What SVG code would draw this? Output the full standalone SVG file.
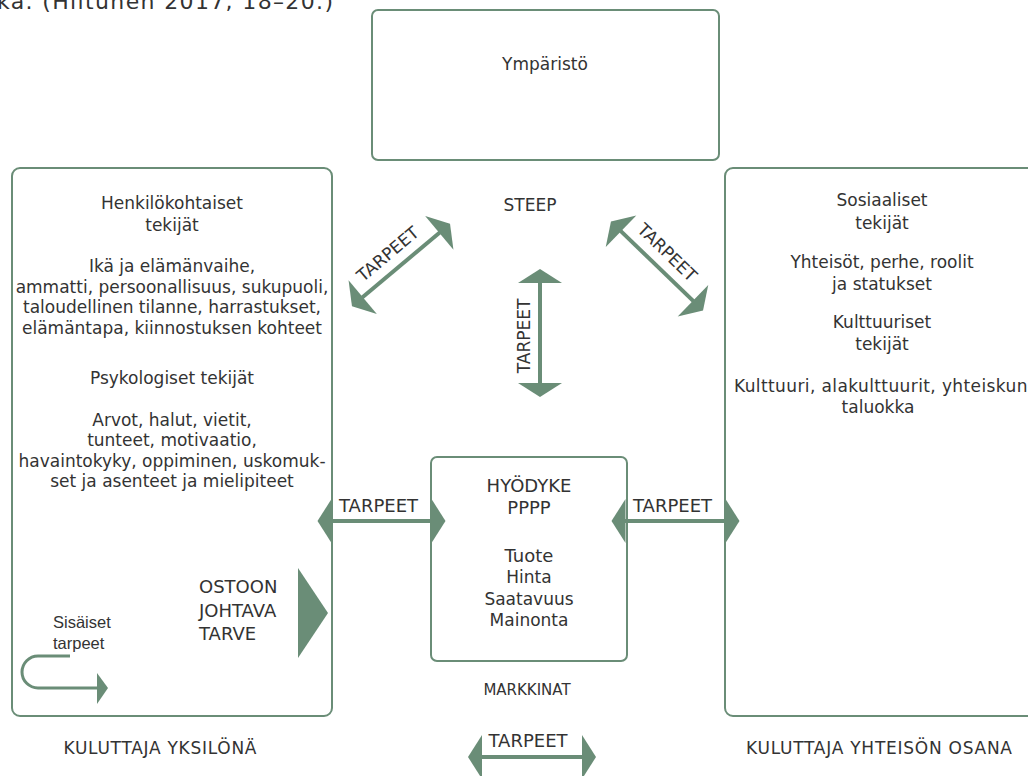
<svg xmlns="http://www.w3.org/2000/svg" width="1028" height="776" viewBox="0 0 1028 776">
  <style>
    .box { fill: #ffffff; stroke: #6a8d77; stroke-width: 2; }
    .arr { fill: #6a8d77; }
    .t { font-family: "DejaVu Sans", "Liberation Sans", sans-serif; font-size: 17px; fill: #333333; text-anchor: middle; }
    .h { font-size: 18px; }
    .s { font-size: 15px; }
    .lbl { font-family: "DejaVu Sans", "Liberation Sans", sans-serif; font-size: 17px; fill: #333333; text-anchor: middle; }
    .ar { font-family: "Liberation Sans", Arial, sans-serif; font-size: 16.5px; fill: #333333; }
  </style>
  <defs>
    <!-- double-headed arrow, centred on the origin, pointing along x -->
    <g id="dbl">
      <rect x="-51" y="-2" width="102" height="4"/>
      <polygon points="-64,0 -50,-22 -50,22"/>
      <polygon points="64,0 50,-22 50,22"/>
    </g>
  </defs>

  <rect width="1028" height="776" fill="#ffffff"/>

  <!-- source line running off the top edge -->
  <text class="t" x="-3" y="9" style="font-size:22px;text-anchor:start" textLength="336" lengthAdjust="spacing">ka. (Hiltunen 2017, 18–20.)</text>

  <g id="ymparisto">
    <rect class="box" x="372" y="10" width="347" height="150" rx="6"/>
    <text class="t" x="545" y="70">Ympäristö</text>
  </g>

  <g id="steep">
    <text class="t" x="530" y="211">STEEP</text>
  </g>

  <g id="yksilo">
    <rect class="box" x="12" y="168" width="320" height="548" rx="8"/>
    <text class="t" x="172" y="209">Henkilökohtaiset</text>
    <text class="t" x="172" y="231">tekijät</text>
    <text class="t" x="172" y="272">Ikä ja elämänvaihe,</text>
    <text class="t" x="172" y="293">ammatti, persoonallisuus, sukupuoli,</text>
    <text class="t" x="172" y="313">taloudellinen tilanne, harrastukset,</text>
    <text class="t" x="172" y="334">elämäntapa, kiinnostuksen kohteet</text>
    <text class="t" x="172" y="384">Psykologiset tekijät</text>
    <text class="t" x="172" y="426">Arvot, halut, vietit,</text>
    <text class="t" x="172" y="446">tunteet, motivaatio,</text>
    <text class="t" x="172" y="467">havaintokyky, oppiminen, uskomuk-</text>
    <text class="t" x="172" y="487">set ja asenteet ja mielipiteet</text>
    <text class="t h" x="199" y="593" style="text-anchor:start">OSTOON</text>
    <text class="t h" x="199" y="617" style="text-anchor:start">JOHTAVA</text>
    <text class="t h" x="199" y="640" style="text-anchor:start">TARVE</text>
    <polygon class="arr" points="298,568 328,613 298,658"/>
    <text class="ar" x="53" y="628">Sisäiset</text>
    <text class="ar" x="53" y="649">tarpeet</text>
    <path d="M70,656 H38 A16,16 0 0 0 38,688 H98" fill="none" stroke="#6a8d77" stroke-width="3"/>
    <polygon class="arr" points="97,673 108,688 97,704"/>
    <text class="t" x="160" y="754" textLength="193" lengthAdjust="spacing">KULUTTAJA YKSILÖNÄ</text>
  </g>

  <g id="yhteiso">
    <rect class="box" x="725" y="168" width="330" height="548" rx="8"/>
    <text class="t" x="882" y="206">Sosiaaliset</text>
    <text class="t" x="882" y="229">tekijät</text>
    <text class="t" x="882" y="268">Yhteisöt, perhe, roolit</text>
    <text class="t" x="882" y="290">ja statukset</text>
    <text class="t" x="882" y="328">Kulttuuriset</text>
    <text class="t" x="882" y="350">tekijät</text>
    <text class="t" x="734" y="392" style="text-anchor:start" textLength="300" lengthAdjust="spacing">Kulttuuri, alakulttuurit, yhteiskun-</text>
    <text class="t" x="878" y="413">taluokka</text>
    <text class="t" x="879" y="754" textLength="266" lengthAdjust="spacing">KULUTTAJA YHTEISÖN OSANA</text>
  </g>

  <g id="markkinat">
    <rect class="box" x="431" y="457" width="196" height="204" rx="6"/>
    <text class="t h" x="529" y="492">HYÖDYKE</text>
    <text class="t h" x="529" y="514">PPPP</text>
    <text class="t h" x="529" y="562">Tuote</text>
    <text class="t" x="529" y="583">Hinta</text>
    <text class="t" x="529" y="605">Saatavuus</text>
    <text class="t" x="529" y="626">Mainonta</text>
    <text class="t s" x="527" y="695">MARKKINAT</text>
  </g>

  <g id="connectors">
    <g transform="translate(401,265) rotate(-40)">
      <use href="#dbl" class="arr"/>
      <text class="lbl" x="-3" y="-11">TARPEET</text>
    </g>
    <g transform="translate(657,266) rotate(44)">
      <use href="#dbl" class="arr"/>
      <text class="lbl" x="-2" y="-11">TARPEET</text>
    </g>
    <g transform="translate(540,333) rotate(-90)">
      <use href="#dbl" class="arr"/>
      <text class="lbl" x="-3" y="-10">TARPEET</text>
    </g>
    <g transform="translate(381.5,521)">
      <use href="#dbl" class="arr"/>
      <text class="lbl" x="-3" y="-9" style="font-size:18px">TARPEET</text>
    </g>
    <g transform="translate(675.5,521)">
      <use href="#dbl" class="arr"/>
      <text class="lbl" x="-3" y="-9" style="font-size:18px">TARPEET</text>
    </g>
    <g transform="translate(532,757)">
      <use href="#dbl" class="arr"/>
      <text class="lbl" x="-4" y="-10" style="font-size:18px">TARPEET</text>
    </g>
  </g>
</svg>
